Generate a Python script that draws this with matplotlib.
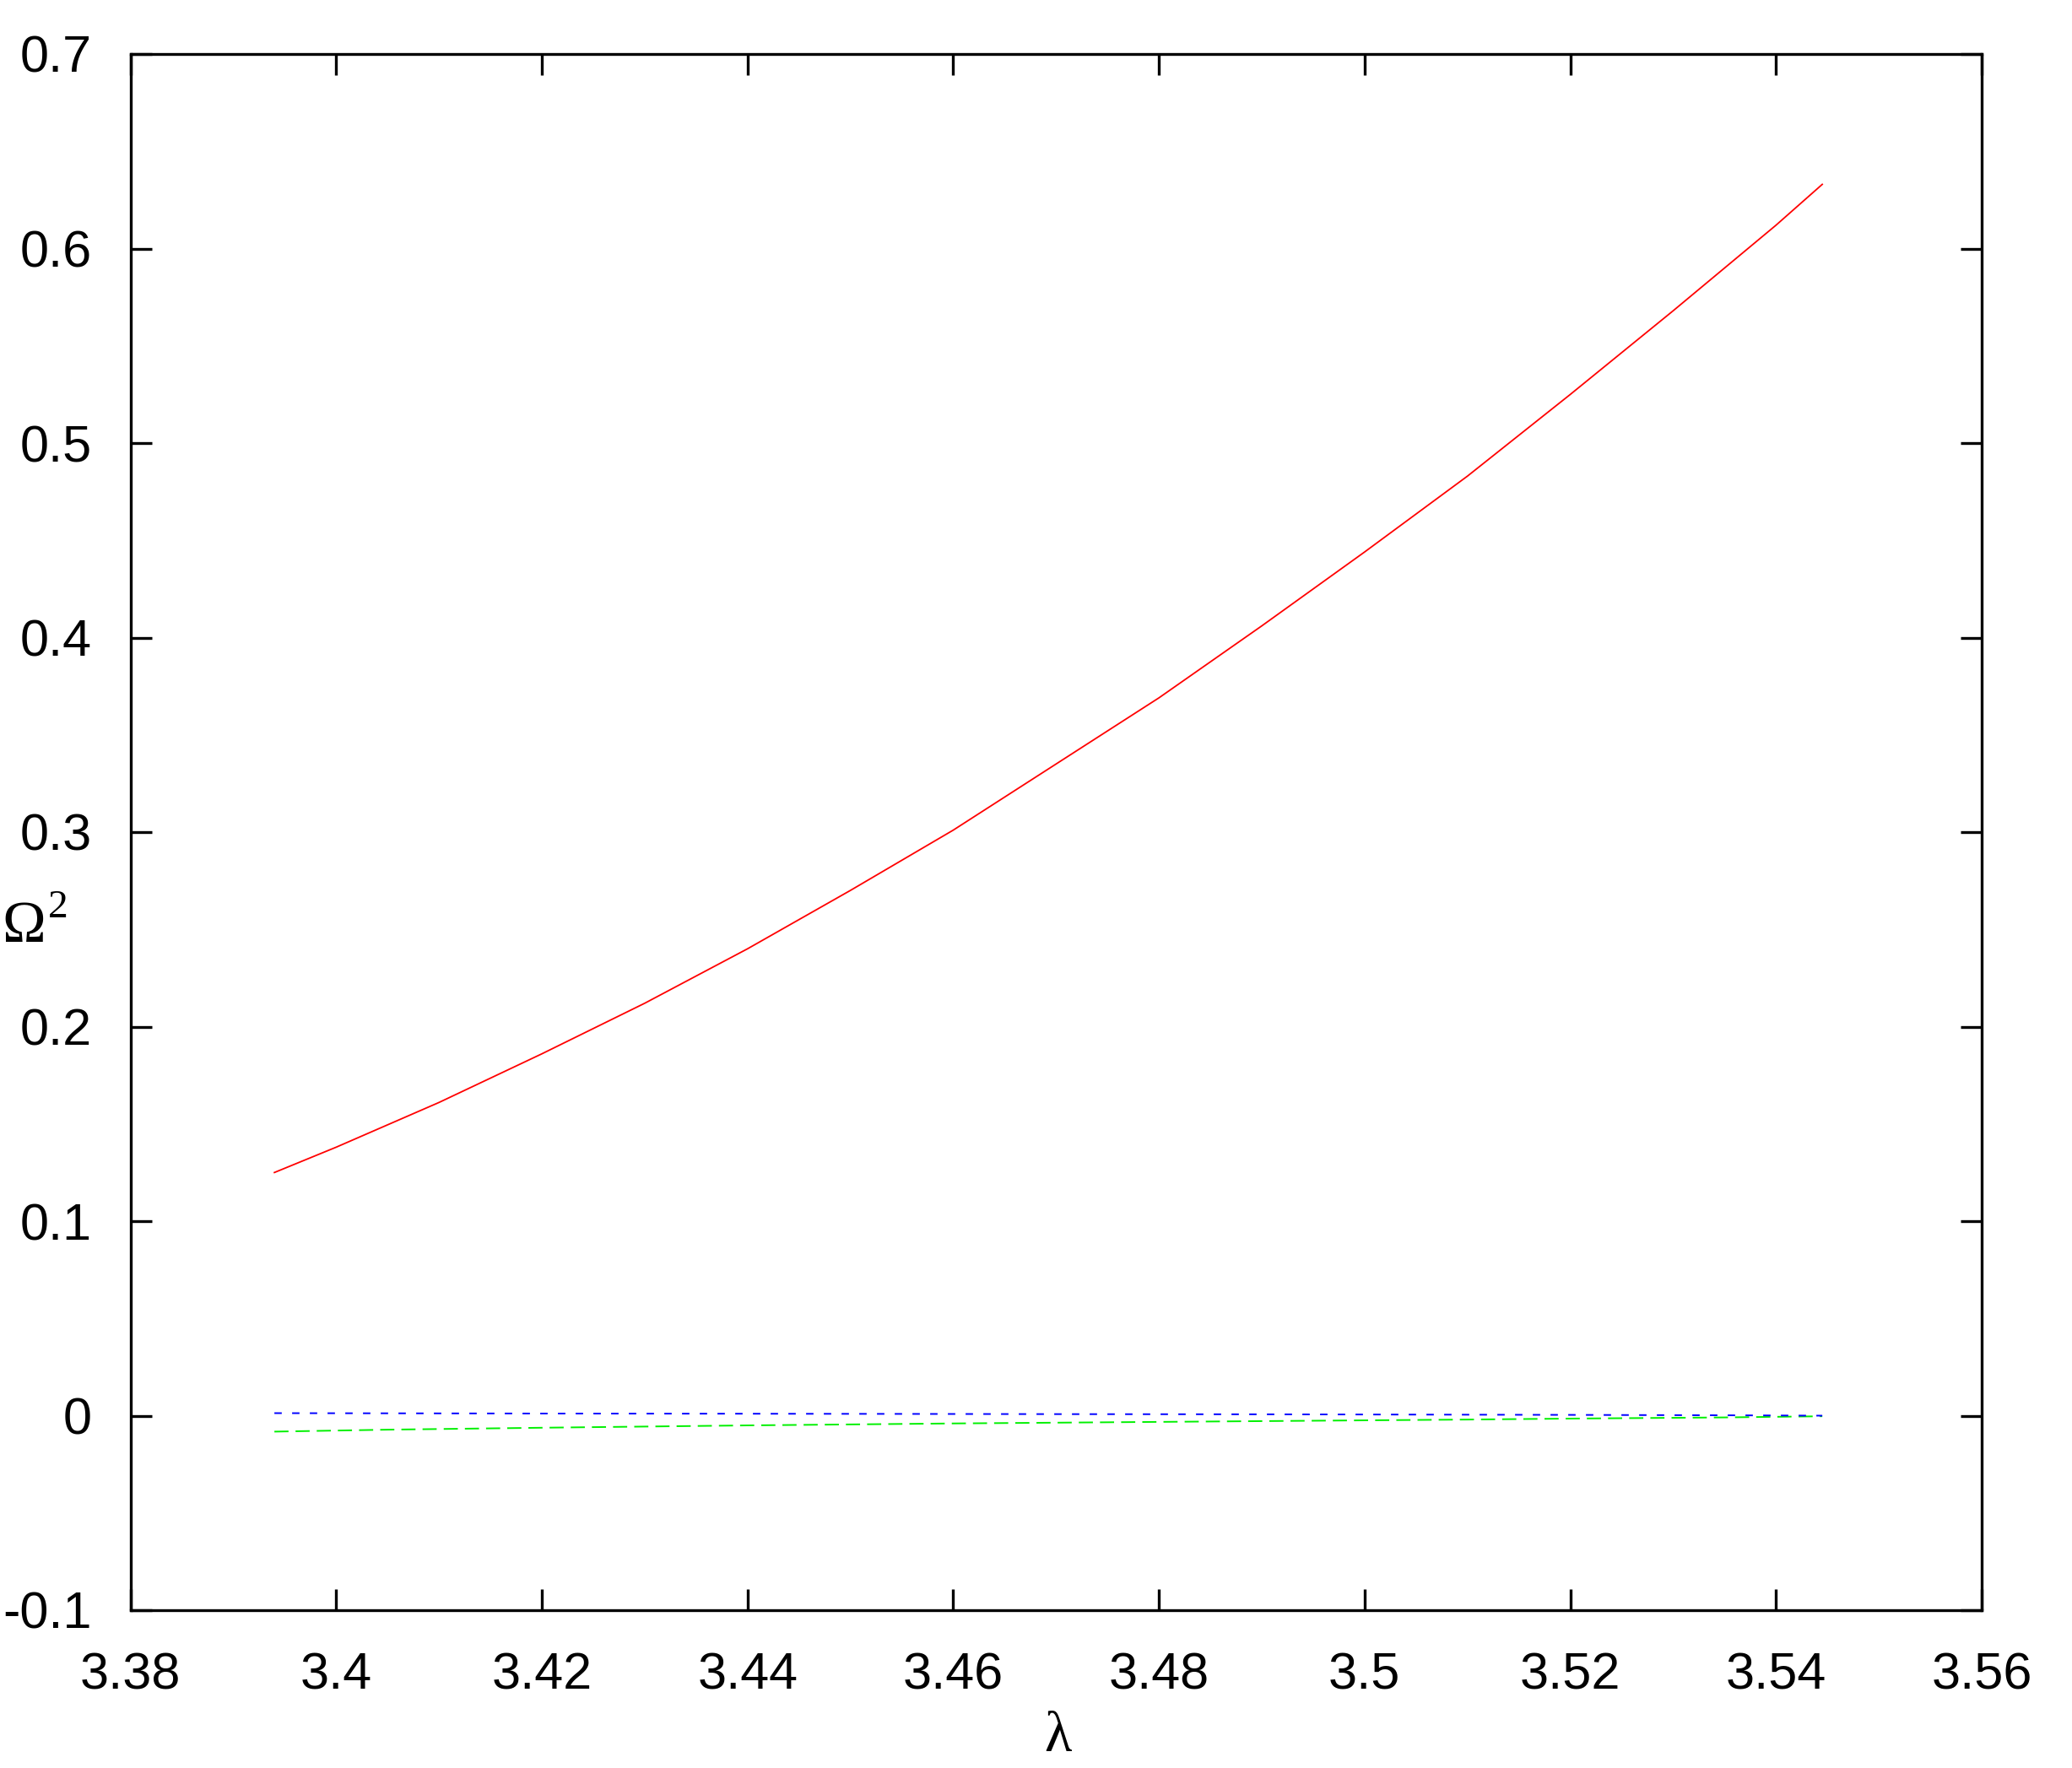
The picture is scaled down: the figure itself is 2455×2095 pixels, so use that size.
import matplotlib
matplotlib.use("Agg")
import matplotlib.pyplot as plt

# readings from the picture
lam_red = [3.394, 3.400, 3.410, 3.420, 3.430, 3.440, 3.450, 3.460, 3.470,
           3.480, 3.490, 3.500, 3.510, 3.520, 3.530, 3.540, 3.5445]
omega_red = [0.125, 0.138, 0.161, 0.186, 0.212, 0.240, 0.270, 0.301, 0.335,
             0.369, 0.406, 0.444, 0.483, 0.525, 0.568, 0.612, 0.633]

lam_blue = [3.394, 3.420, 3.440, 3.470, 3.490, 3.510, 3.520, 3.535, 3.5445]
omega_blue = [0.0013, 0.0011, 0.0010, 0.0008, 0.0007, 0.0005, 0.0004, 0.0002, 0.0]

lam_green = [3.394, 3.405, 3.420, 3.440, 3.460, 3.490, 3.510, 3.520, 3.535, 3.5445]
omega_green = [-0.0082, -0.0072, -0.0062, -0.0050, -0.0040, -0.0028, -0.0020, -0.0015, -0.0009, -0.0003]

xticks = [3.38, 3.40, 3.42, 3.44, 3.46, 3.48, 3.50, 3.52, 3.54, 3.56]
xlabels = ["3.38", "3.4", "3.42", "3.44", "3.46", "3.48", "3.5", "3.52", "3.54", "3.56"]
yticks = [-0.1, 0, 0.1, 0.2, 0.3, 0.4, 0.5, 0.6, 0.7]
ylabels = ["-0.1", "0", "0.1", "0.2", "0.3", "0.4", "0.5", "0.6", "0.7"]

W, H = 2455, 2095
fig = plt.figure(figsize=(W / 100, H / 100), dpi=100)
ax = fig.add_axes([154.5 / W, 1 - 1908 / H, (2348 - 154.5) / W, (1908 - 64) / H])

ax.plot(lam_red, omega_red, color="#ff0000", lw=1.3)
ax.plot(lam_green, omega_green, color="#00f000", lw=1.4, dashes=(8.6, 4.3))
ax.plot(lam_blue, omega_blue, color="#0000ff", lw=1.4, dashes=(4.5, 6.3))

ax.set_xlim(3.38, 3.56)
ax.set_ylim(-0.1, 0.7)
ax.set_xticks(xticks)
ax.set_xticklabels(xlabels)
ax.set_yticks(yticks)
ax.set_yticklabels(ylabels)

for sp in ax.spines.values():
    sp.set_linewidth(2.4)
ax.tick_params(direction="in", length=18, width=2.4, top=True, right=True,
               labelsize=44)
ax.tick_params(axis="x", pad=36)
ax.tick_params(axis="y", pad=33)
for lbl in ax.get_xticklabels() + ax.get_yticklabels():
    lbl.set_fontfamily("Liberation Sans")

# axis titles, serif like the original
fig.text(1253 / W, 1 - 2075 / H, "λ", family="Liberation Serif", fontsize=48,
         ha="center", va="baseline")
fig.text(54 / W, 1 - 1116 / H, "Ω", family="Liberation Serif", fontsize=50,
         ha="right", va="baseline")
fig.text(57 / W, 1 - 1087 / H, "2", family="Liberation Serif", fontsize=34,
         ha="left", va="baseline")

fig.savefig("out.png", dpi=100)
